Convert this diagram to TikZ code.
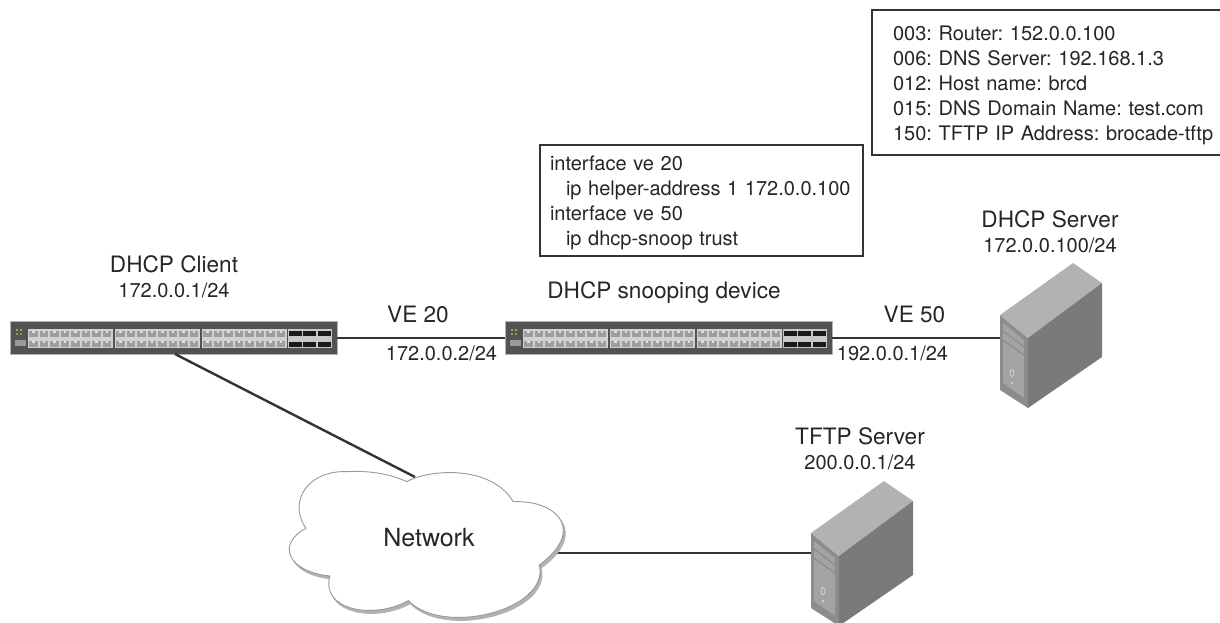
\documentclass[tikz,border=0pt]{standalone}
\usepackage{fontspec}
\setmainfont{TeX Gyre Heros}
\usepackage{tikz}
\usetikzlibrary{positioning}
\frenchspacing

\definecolor{linegray}{gray}{0.2}
\definecolor{textgray}{gray}{0.15}
\tikzset{
  iplabel/.style={inner sep=0pt,text=textgray,font=\fontsize{20}{24}\selectfont},
  namelabel/.style={inner sep=0pt,text=textgray,font=\fontsize{22.6}{26}\selectfont},
  infobox/.style={draw=linegray,line width=2pt,fill=white,outer sep=0pt,anchor=north west,align=left,text=textgray,font=\fontsize{20}{25}\selectfont},
  switchbody/.style={fill=black!68,draw=black!30,line width=.6pt,minimum width=327pt,minimum height=33pt,inner sep=0pt},
  wire/.style={draw=linegray,line width=2.4pt},
  switchports/.pic={
    \foreach \x in {18,105,192}{
      \fill[black!18] (\x,8) rectangle (\x+85,27);
      \foreach \c in {0,...,7}{
        \foreach \y in {9.5,19.5}{
          \fill[black!38] (\x+1.5+\c*10.5,\y) rectangle (\x+10+\c*10.5,\y+6);
          \fill[black!12] (\x+4.5+\c*10.5,\y) rectangle (\x+7+\c*10.5,\y+2);
        }
      }
    }
    \fill[black!22] (278,8) rectangle (322,27);
    \foreach \c in {0,1,2}{
      \fill[black!90] (279.5+\c*14.2,9.5) rectangle (292.5+\c*14.2,15);
      \fill[black!90] (279.5+\c*14.2,20.5) rectangle (292.5+\c*14.2,26);
    }
    \fill[black!40] (5,19) rectangle (16,25);
    \fill[olive!70] (6,8) rectangle (8.5,10);
    \fill[olive!70] (10,8) rectangle (12.5,10);
    \fill[black!45] (6,12) rectangle (8.5,14);
    \fill[black!45] (10,12) rectangle (12.5,14);
  },
  tower/.pic={
    \fill[black!45] (0,0) -- (28,23) -- (28,93) -- (0,75) -- cycle;
    \fill[black!30] (0,0) -- (73,-52) -- (102,-32) -- (28,23) -- cycle;
    \fill[black!52] (28,23) -- (102,-32) -- (102,42) -- (28,93) -- cycle;
    \fill[black!36] (3,8) -- (24,25) -- (24,31) -- (3,15) -- cycle;
    \fill[black!36] (3,17) -- (24,33) -- (24,39) -- (3,24) -- cycle;
    \fill[black!36] (3,26) -- (24,41) -- (24,83) -- (3,68) -- cycle;
    \draw[white!85!black,line width=.7pt] (12,58) ellipse (2pt and 3.5pt);
    \fill[white!85!black] (12,68) circle (1.2pt);
  }
}

\begin{document}
\begin{tikzpicture}[x=1pt,y=-1pt]
    \useasboundingbox (0,0) rectangle (1220,622);
    \coordinate (dhcpport) at (1000,337.5);
    \coordinate (tftpport) at (811,553);
    \coordinate (cloudtop) at (415,477);
    \coordinate (cloudright) at (555,553);
    \coordinate (clientout) at (175,354);

    \node [switchbody] (client) at (173.5,338) {};
    \node [switchbody] (snoop) at (668.5,338) {};
    \pic at (client.north west) {switchports};
    \pic at (snoop.north west) {switchports};

    \draw [wire] (client) -- (snoop);
    \draw [wire] (snoop.east) -- (dhcpport |- snoop.east);
    \draw [wire] (clientout) -- (cloudtop);
    \draw [wire] (cloudright) -- (tftpport);

    % cloud, shadow first
    \foreach \dx/\dy/\col/\edge in {2/3/black!30/black!30,0/0/white/black!40}{
      \begin{scope}[shift={(270+\dx,450+\dy)},x=.3333pt,y=-.3333pt]
        \path [fill=\col,draw=\edge,line width=.9pt]
          (410,95) .. controls (470,60) and (660,40) .. (730,155)
          .. controls (860,150) and (950,240) .. (808,345)
          .. controls (840,480) and (520,560) .. (415,452)
          .. controls (310,510) and (150,480) .. (180,378)
          .. controls (50,365) and (20,280) .. (108,235)
          .. controls (50,150) and (120,60) .. (230,65)
          .. controls (300,60) and (370,75) .. (410,95) -- cycle;
      \end{scope}
    }
    \node [inner sep=0pt,text=textgray,font=\fontsize{25}{30}\selectfont] (network) at (429,538) {Network};

    \pic at (1000,315) {tower};
    \pic at (811,533) {tower};

    \node [iplabel] (clientip) at (174,290) {172.0.0.1/24};
    \node [namelabel,above=9pt of clientip] (clientname) {DHCP Client};
    \node [namelabel] (snoopname) at (664,293) {DHCP snooping device};
    \node [namelabel] (ve20) at (418,314) {VE 20};
    \node [iplabel] (ve20ip) at (441.5,353) {172.0.0.2/24};
    \node [namelabel] (ve50) at (914.5,314) {VE 50};
    \node [iplabel] (ve50ip) at (892.5,353) {192.0.0.1/24};
    \node [iplabel] (dhcpip) at (1050,245) {172.0.0.100/24};
    \node [namelabel,above=9pt of dhcpip] (dhcpname) {DHCP Server};
    \node [iplabel] (tftpip) at (860,462) {200.0.0.1/24};
    \node [namelabel,above=9pt of tftpip] (tftpname) {TFTP Server};

    \node [infobox,minimum height=145pt,text width=325pt,inner xsep=21pt,inner ysep=0pt] (options) at (872,10)
      {\rule{0pt}{21pt}003: Router: 152.0.0.100\\006: DNS Server: 192.168.1.3\\012: Host name: brcd\\015: DNS Domain Name: test.com\\150: TFTP IP Address: brocade-tftp};
    \node [infobox,minimum height=111pt,text width=303pt,inner xsep=10pt,inner ysep=0pt] (config) at (540,145)
      {\rule{0pt}{19pt}interface ve 20\\\hspace*{16pt}ip helper-address 1 172.0.0.100\\interface ve 50\\\hspace*{16pt}ip dhcp-snoop trust};
\end{tikzpicture}
\end{document}
